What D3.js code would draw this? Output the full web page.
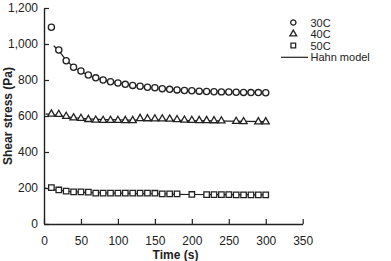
<!DOCTYPE html>
<html>
<head>
<meta charset="utf-8">
<script src="https://cdn.jsdelivr.net/npm/d3@7"></script>
<style>
  body { margin: 0; background: #fff; }
  text { font-family: "Liberation Sans", Arial, sans-serif; fill: #222; }
</style>
</head>
<body>
<svg id="chart"></svg>
<script>
// Measured times (s)
var times = [10, 20, 30, 40, 50, 60, 70, 80, 90, 100, 110, 120, 130, 140, 150,
  160, 170, 180, 190, 200, 210, 220, 230, 240, 250, 260, 270, 280, 290, 300];

// Shear stress (Pa) per temperature, null where no marker is drawn
var stress30 = [1093, 967, 907, 871, 850, 828, 812, 800, 790, 783, 776, 770, 765, 760, 757,
  752, 748, 745, 742, 740, 738, 736, 735, 734, 733, 732, 731, 730, 730, 729];
var stress40 = [611, 609, 598, 590, 587, 581, 577, 576, 576, 576, 575, 575, 586, 585, 584,
  584, 583, 580, 577, 576, 575, 575, 574, 573, null, 570, 569, null, 568, 568];
var stress50 = [202, 189, 183, 178, 178, 177, 172, 172, 172, 172, 172, 172, 172, 172, 171,
  167, 167, 167, null, 164, null, 163, 163, 163, 163, 162, 162, 162, 162, 162];

// Hahn model lines
var hahn30 = [[13, 990], [20, 962], [30, 910], [40, 873], [50, 847], [60, 827], [80, 801],
  [100, 784], [125, 769], [150, 757], [175, 748], [200, 741], [250, 734], [300, 730]];
var hahn40 = [[2, 612], [15, 605], [30, 596], [60, 584], [100, 579], [150, 577],
  [200, 575], [250, 572], [300, 569]];
var hahn50 = [[1, 199], [15, 190], [30, 182], [60, 175], [100, 171], [150, 168],
  [200, 164], [250, 163], [300, 162]];

var xTicks = [0, 50, 100, 150, 200, 250, 300, 350];
var yTicks = [0, 200, 400, 600, 800, 1000, 1200];
var legendLabels = ["30C", "40C", "50C", "Hahn model"];

var width = 391, height = 261;
var ink = "#222";

var svg = d3.select("#chart")
  .attr("width", width)
  .attr("height", height);

var x = d3.scaleLinear().domain([0, 350]).range([44, 302.7]);
var y = d3.scaleLinear().domain([0, 1200]).range([224, 8]);

// Axes, ticks point inward
var xAxis = svg.append("g")
  .attr("transform", "translate(0," + y(0) + ")")
  .call(d3.axisBottom(x).tickValues(xTicks).tickSizeInner(-5).tickSizeOuter(0).tickPadding(12));

var yAxis = svg.append("g")
  .attr("transform", "translate(" + x(0) + ",0)")
  .call(d3.axisLeft(y).tickValues(yTicks).tickFormat(d3.format(",")).tickSizeInner(-5).tickSizeOuter(0).tickPadding(6));

[xAxis, yAxis].forEach(function (g) {
  g.select(".domain").attr("stroke", ink).attr("stroke-width", 1.4);
  g.selectAll(".tick line").attr("stroke", ink).attr("stroke-width", 1.2);
  g.selectAll(".tick text")
    .attr("fill", ink)
    .style("font-size", "12px")
    .style("font-family", "'Liberation Sans', Arial, sans-serif");
});

// Axis titles
svg.append("text")
  .attr("x", 175.5)
  .attr("y", 259)
  .attr("text-anchor", "middle")
  .style("font-size", "12px")
  .style("font-weight", "bold")
  .text("Time (s)");

svg.append("text")
  .attr("transform", "translate(12," + (y(600)) + ") rotate(-90)")
  .attr("text-anchor", "middle")
  .style("font-size", "12px")
  .style("font-weight", "bold")
  .text("Shear stress (Pa)");

// Model lines
var line = d3.line()
  .x(function (d) { return x(d[0]); })
  .y(function (d) { return y(d[1]); })
  .curve(d3.curveMonotoneX);

[hahn30, hahn40, hahn50].forEach(function (h) {
  svg.append("path")
    .datum(h)
    .attr("d", line)
    .attr("fill", "none")
    .attr("stroke", ink)
    .attr("stroke-width", 1.2);
});

// Markers
var circleSym = d3.symbol().type(d3.symbolCircle).size(30);
var triSym = d3.symbol().type(d3.symbolTriangle).size(22);
var sqSym = d3.symbol().type(d3.symbolSquare).size(30);

function drawSeries(values, sym) {
  var pts = times.map(function (t, i) { return [t, values[i]]; })
    .filter(function (d) { return d[1] != null; });
  svg.append("g")
    .selectAll("path")
    .data(pts)
    .enter()
    .append("path")
    .attr("d", sym)
    .attr("transform", function (d) {
      return "translate(" + x(d[0]) + "," + y(d[1]) + ")";
    })
    .attr("fill", "#fff")
    .attr("stroke", ink)
    .attr("stroke-width", 1.3);
}

drawSeries(stress30, circleSym);
drawSeries(stress40, triSym);
drawSeries(stress50, sqSym);

// Legend
var legend = svg.append("g");
var legendTypes = [d3.symbolCircle, d3.symbolTriangle, d3.symbolSquare];
var rowY = [22.5, 34, 45.5, 57.3];

legendLabels.forEach(function (label, i) {
  if (i < 3) {
    legend.append("path")
      .attr("d", d3.symbol().type(legendTypes[i]).size(i == 1 ? 20 : 22))
      .attr("transform", "translate(293.3," + rowY[i] + ")")
      .attr("fill", "#fff")
      .attr("stroke", ink)
      .attr("stroke-width", 1.3);
  } else {
    legend.append("line")
      .attr("x1", 281).attr("x2", 308)
      .attr("y1", rowY[i]).attr("y2", rowY[i])
      .attr("stroke", ink)
      .attr("stroke-width", 1.2);
  }
  legend.append("text")
    .attr("x", 310.5)
    .attr("y", rowY[i] + 4)
    .style("font-size", "11px")
    .text(label);
});
</script>
</body>
</html>
